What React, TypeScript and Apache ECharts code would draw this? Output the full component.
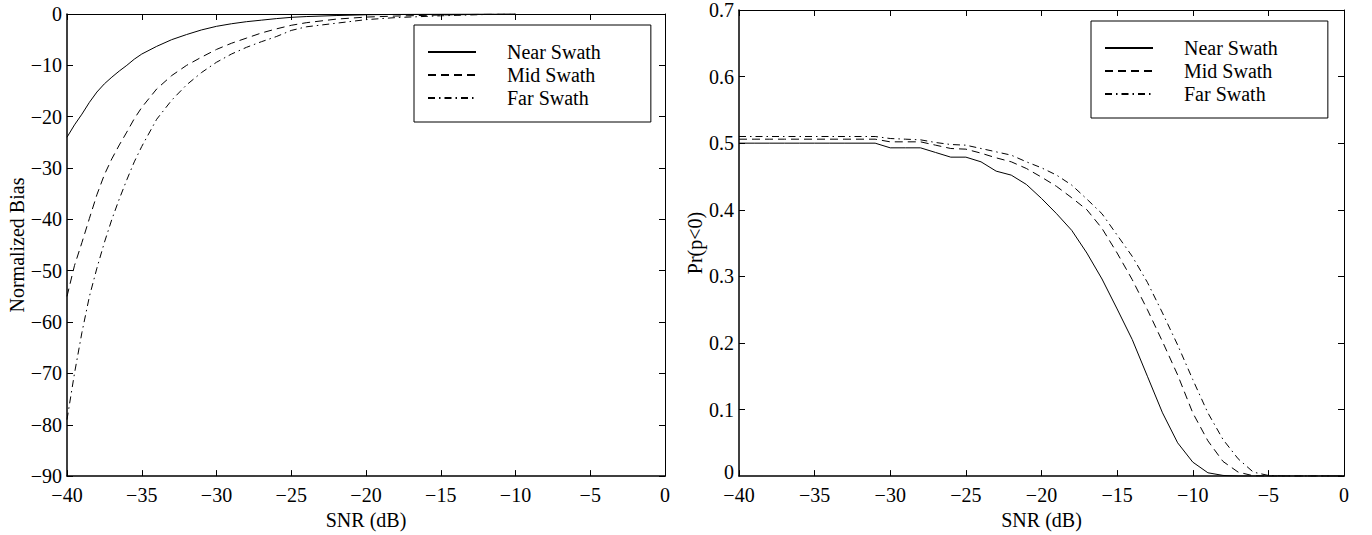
import React, { useEffect, useRef } from "react";
import * as echarts from "echarts";

const seriesNames = ["Near Swath", "Mid Swath", "Far Swath"];

// Left panel: Normalized Bias vs SNR
const biasSnr = [-40, -39.5, -39, -38.5, -38, -37.5, -37, -36.5, -36, -35.5, -35, -34, -33, -32, -31, -30, -29, -28, -27, -26, -25, -24, -22, -20, -18, -15, -12, -10];
const biasNear = [-24, -21.6, -19.5, -17.2, -15.2, -13.6, -12.3, -11.1, -10, -8.8, -7.8, -6.3, -5, -4, -3.1, -2.4, -1.9, -1.5, -1.2, -0.9, -0.65, -0.5, -0.3, -0.15, -0.08, -0.03, 0, 0];
const biasMid = [-55, -49, -44.5, -39.8, -35.2, -31.3, -28.2, -25.5, -23, -20.4, -18.2, -14.6, -12, -10, -8.4, -6.9, -5.7, -4.7, -3.7, -2.9, -2.2, -1.7, -1.0, -0.6, -0.4, -0.2, -0.05, 0];
const biasFar = [-79, -70, -62, -55, -49.5, -44.5, -40, -36, -32.3, -28.8, -25.8, -20.5, -16.8, -13.8, -11.4, -9.4, -7.8, -6.5, -5.4, -4.4, -3.2, -2.5, -1.8, -1.1, -0.7, -0.35, -0.1, 0];

// Right panel: Pr(p<0) vs SNR
const probSnr = [-40, -39, -38, -37, -36, -35, -34, -33, -32, -31, -30, -29, -28, -27, -26, -25, -24, -23, -22, -21, -20, -19, -18, -17, -16, -15, -14, -13, -12, -11, -10, -9, -8, -7, -6, -5, -4, -3, -2, -1, 0];
const probNear = [0.5, 0.5, 0.5, 0.5, 0.5, 0.5, 0.5, 0.5, 0.5, 0.5, 0.493, 0.493, 0.493, 0.486, 0.479, 0.479, 0.472, 0.458, 0.452, 0.438, 0.417, 0.394, 0.369, 0.335, 0.296, 0.251, 0.205, 0.15, 0.095, 0.05, 0.021, 0.005, 0.001, 0, 0, 0, 0, 0, 0, 0, 0];
const probMid = [0.506, 0.506, 0.506, 0.506, 0.506, 0.506, 0.506, 0.506, 0.506, 0.506, 0.502, 0.502, 0.502, 0.497, 0.492, 0.491, 0.485, 0.478, 0.472, 0.462, 0.449, 0.435, 0.418, 0.4, 0.372, 0.335, 0.295, 0.25, 0.202, 0.152, 0.095, 0.053, 0.022, 0.006, 0.0005, 0, 0, 0, 0, 0, 0];
const probFar = [0.51, 0.51, 0.51, 0.51, 0.51, 0.51, 0.51, 0.51, 0.51, 0.51, 0.507, 0.506, 0.505, 0.501, 0.498, 0.497, 0.492, 0.487, 0.482, 0.472, 0.463, 0.452, 0.437, 0.416, 0.394, 0.362, 0.33, 0.291, 0.245, 0.197, 0.145, 0.095, 0.055, 0.026, 0.006, 0.001, 0, 0, 0, 0, 0];

const FONT = '"Liberation Serif", "Times New Roman", serif';
const dashTypes: any[] = ["solid", [8, 5], [7, 4, 1.5, 4]];

const fmtNeg = (v: number) => (v < 0 ? "\u2212" + Math.abs(v) : String(v));
const fmtProb = (v: number) => (Math.abs(v) < 1e-9 ? "0" : String(Math.round(v * 10) / 10));

export default function App() {
  const ref = useRef<HTMLDivElement>(null);
  useEffect(() => {
    if (!ref.current) return;
    const chart = echarts.init(ref.current, undefined, { renderer: "svg" });
    const labelStyle = { color: "#000", fontFamily: FONT, fontSize: 20 };
    const mainX = (grid: number) => ({
      type: "value",
      gridIndex: grid,
      min: -40,
      max: 0,
      interval: 5,
      position: "bottom",
      name: "SNR (dB)",
      nameLocation: "middle",
      nameGap: 30,
      nameTextStyle: labelStyle,
      axisLine: { show: true, onZero: false, lineStyle: { color: "#000", width: 1.5 } },
      axisTick: { show: true, inside: true, length: 6, lineStyle: { color: "#000", width: 1 } },
      axisLabel: { ...labelStyle, margin: 9, formatter: fmtNeg },
      splitLine: { show: false },
    });
    const topX = (grid: number) => ({
      type: "value",
      gridIndex: grid,
      min: -40,
      max: 0,
      interval: 5,
      position: "top",
      axisLine: { show: true, onZero: false, lineStyle: { color: "#000", width: 1 } },
      axisTick: { show: true, inside: true, length: 6, lineStyle: { color: "#000", width: 1 } },
      axisLabel: { show: false },
      splitLine: { show: false },
    });
    const sideY = (grid: number, min: number, max: number, interval: number) => ({
      type: "value",
      gridIndex: grid,
      min,
      max,
      interval,
      position: "right",
      axisLine: { show: true, onZero: false, lineStyle: { color: "#000", width: 1 } },
      axisTick: { show: true, inside: true, length: 6, lineStyle: { color: "#000", width: 1 } },
      axisLabel: { show: false },
      splitLine: { show: false },
    });
    const mkSeries = (xs: number[], ys: number[], i: number, xi: number, yi: number) => ({
      type: "line",
      name: seriesNames[i],
      xAxisIndex: xi,
      yAxisIndex: yi,
      data: xs.map((x, k) => [x, ys[k]]),
      symbol: "none",
      showSymbol: false,
      smooth: false,
      lineStyle: { color: "#000", width: 1, type: dashTypes[i] },
      itemStyle: { color: "#000" },
      z: 3,
    });
    const mkLegend = (left: number, top: number) => ({
      show: true,
      orient: "vertical",
      left,
      top,
      data: seriesNames,
      backgroundColor: "#fff",
      borderColor: "#000",
      borderWidth: 1,
      borderRadius: 0,
      padding: [17, 50, 14, 13],
      itemWidth: 48,
      itemHeight: 20,
      itemGap: 3,
      selectedMode: false,
      itemStyle: { color: "rgba(0,0,0,0)", opacity: 0, borderWidth: 0 },
      textStyle: { color: "#000", fontFamily: FONT, fontSize: 20, padding: [0, 0, 0, 26] },
    });
    chart.setOption({
      animation: false,
      backgroundColor: "#fff",
      grid: [
        { left: 67, top: 14, width: 598, height: 471, containLabel: false },
        { left: 739, top: 9, width: 605, height: 475, containLabel: false },
      ],
      xAxis: [mainX(0), topX(0), mainX(1), topX(1)],
      yAxis: [
        {
          type: "value",
          gridIndex: 0,
          min: -90,
          max: 0,
          interval: 10,
          position: "left",
          name: "Normalized Bias",
          nameLocation: "middle",
          nameGap: 40,
          nameRotate: 90,
          nameTextStyle: labelStyle,
          axisLine: { show: true, onZero: false, lineStyle: { color: "#000", width: 1.5 } },
          axisTick: { show: true, inside: true, length: 6, lineStyle: { color: "#000", width: 1 } },
          axisLabel: { ...labelStyle, margin: 5, formatter: fmtNeg },
          splitLine: { show: false },
        },
        sideY(0, -90, 0, 10),
        {
          type: "value",
          gridIndex: 1,
          min: 0,
          max: 0.7,
          interval: 0.1,
          position: "left",
          name: "Pr(p<0)",
          nameLocation: "middle",
          nameGap: 34,
          nameRotate: 90,
          nameTextStyle: labelStyle,
          axisLine: { show: true, onZero: false, lineStyle: { color: "#000", width: 1.5 } },
          axisTick: { show: true, inside: true, length: 6, lineStyle: { color: "#000", width: 1 } },
          axisLabel: { ...labelStyle, margin: 5, formatter: fmtProb, showMinLabel: false },
          splitLine: { show: false },
        },
        sideY(1, 0, 0.7, 0.1),
      ],
      graphic: [
        {
          type: "text",
          x: 734,
          y: 472,
          style: {
            text: "0",
            fill: "#000",
            font: `20px ${FONT}`,
            textAlign: "right",
            textVerticalAlign: "middle",
          },
        },
      ],
      legend: [mkLegend(414, 25), mkLegend(1091, 21)],
      series: [
        mkSeries(biasSnr, biasNear, 0, 0, 0),
        mkSeries(biasSnr, biasMid, 1, 0, 0),
        mkSeries(biasSnr, biasFar, 2, 0, 0),
        mkSeries(probSnr, probNear, 0, 2, 2),
        mkSeries(probSnr, probMid, 1, 2, 2),
        mkSeries(probSnr, probFar, 2, 2, 2),
      ],
    });
    return () => chart.dispose();
  }, []);
  return (
    <div
      ref={ref}
      style={{ position: "fixed", left: 0, top: 0, width: 1372, height: 535, background: "#fff" }}
    />
  );
}
